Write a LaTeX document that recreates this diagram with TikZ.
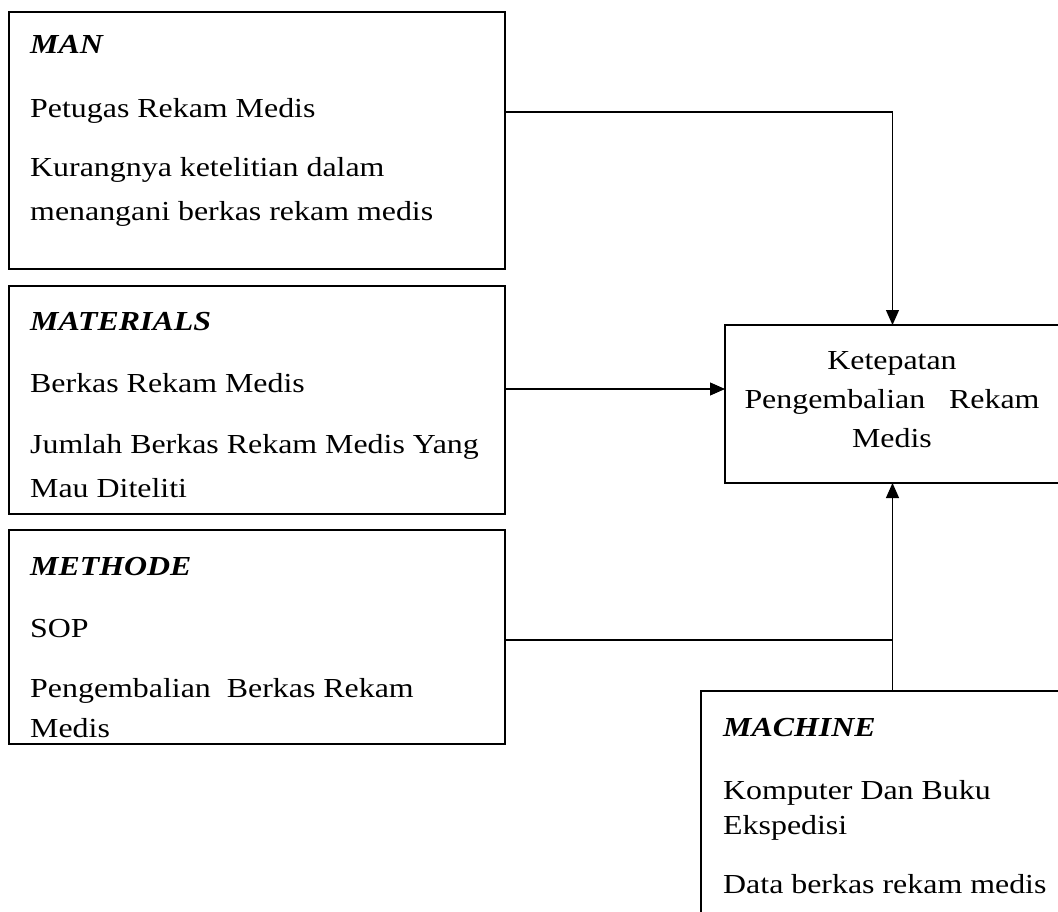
\documentclass[tikz,border=0pt]{standalone}
\usepackage{fontspec}
\setmainfont{Liberation Serif}[FakeStretch=1.16]
\usetikzlibrary{arrows.meta}
\begin{document}
\begin{tikzpicture}[x=1pt,y=-1pt,
  box/.style={draw, line width=1.3pt, inner sep=0pt, outer sep=0pt, anchor=north west},
  txt/.style={anchor=base west, inner sep=0pt, font=\fontsize{27.5}{33}\selectfont},
  head/.style={anchor=base west, inner sep=0pt, font=\fontsize{27.5}{33}\selectfont\bfseries\itshape},
  ctr/.style={anchor=base, inner sep=0pt, font=\fontsize{27.5}{33}\selectfont},
  arr/.style={line width=1.1pt, -{Triangle[length=15pt,width=13pt]}},
  ln/.style={line width=1.1pt}]
\useasboundingbox (0,0) rectangle (1058,911);
\fill[white] (0,0) rectangle (1058,911);
% boxes
\node[box, minimum width=496pt, minimum height=257pt] (man) at (9,12) {};
\node[box, minimum width=496pt, minimum height=228pt] (mat) at (9,286) {};
\node[box, minimum width=496pt, minimum height=214pt] (met) at (9,530) {};
\node[box, minimum width=335pt, minimum height=158pt] (ket) at (725,325) {};
\node[box, minimum width=380pt, minimum height=260pt] (mach) at (701,691) {};
% MAN
\node[head] (manh) at (30,53) {MAN};
\node[txt] (man1) at (30,117) {Petugas Rekam Medis};
\node[txt] (man2) at (30,176) {Kurangnya ketelitian dalam};
\node[txt] (man3) at (30,220) {menangani berkas rekam medis};
% MATERIALS
\node[head] (math) at (30,330) {MATERIALS};
\node[txt] (mat1) at (30,392) {Berkas Rekam Medis};
\node[txt] (mat2) at (30,453) {Jumlah Berkas Rekam Medis Yang};
\node[txt] (mat3) at (30,497) {Mau Diteliti};
% METHODE
\node[head] (meth) at (30,575) {METHODE};
\node[txt] (met1) at (30,637) {SOP};
\node[txt] (met2) at (30,697) {Pengembalian\ \ Berkas Rekam};
\node[txt] (met3) at (30,737) {Medis};
% Ketepatan
\node[ctr] (ket1) at (892,369) {Ketepatan};
\node[ctr] (ket2) at (892,408) {Pengembalian\ \ \ Rekam};
\node[ctr] (ket3) at (892,447) {Medis};
% MACHINE
\node[head] (machh) at (723,736) {MACHINE};
\node[txt] (mach1) at (723,799) {Komputer Dan Buku};
\node[txt] (mach2) at (723,834) {Ekspedisi};
\node[txt] (mach3) at (723,893) {Data berkas rekam medis};
% connectors
\draw[arr] ([yshift=-100pt]man.north east) -| (ket.north);
\coordinate (matout) at ([yshift=-103pt]mat.north east);
\draw[arr] (matout) -- (matout -| ket.west);
\coordinate (metout) at ([yshift=-110pt]met.north east);
\draw[ln] (metout) -- (metout -| ket.south);
\draw[arr] (mach.north -| ket.south) -- (ket.south);
\end{tikzpicture}
\end{document}
